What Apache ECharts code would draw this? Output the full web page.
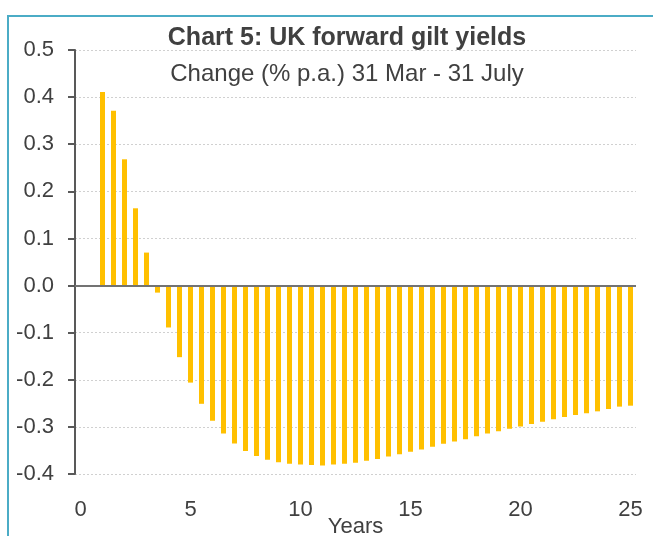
<!DOCTYPE html>
<html lang="en">
<head>
<meta charset="UTF-8">
<title>UK forward gilt yields</title>
<script src="https://cdn.jsdelivr.net/npm/echarts@6/dist/echarts.min.js"></script>
<style>
  html, body { margin: 0; padding: 0; background: #fff; }
  #main { width: 653px; height: 536px; }
</style>
</head>
<body>
<div id="main"></div>
<script>
// maturities in years (category axis, half-year steps)
var years = ['0', '0.5', '1', '1.5', '2', '2.5', '3', '3.5', '4', '4.5',
  '5', '5.5', '6', '6.5', '7', '7.5', '8', '8.5', '9', '9.5',
  '10', '10.5', '11', '11.5', '12', '12.5', '13', '13.5', '14', '14.5',
  '15', '15.5', '16', '16.5', '17', '17.5', '18', '18.5', '19', '19.5',
  '20', '20.5', '21', '21.5', '22', '22.5', '23', '23.5', '24', '24.5', '25'];

// change in forward yield, % p.a. (no value at 0 and 0.5)
var change = [null, null,
  0.411, 0.371, 0.268, 0.164, 0.070, -0.015, -0.089, -0.152,
  -0.206, -0.251, -0.287, -0.314, -0.335, -0.351, -0.362, -0.370, -0.375, -0.378,
  -0.380, -0.381, -0.382, -0.380, -0.378, -0.376, -0.372, -0.368, -0.363, -0.358,
  -0.353, -0.348, -0.342, -0.336, -0.331, -0.326, -0.320, -0.314, -0.309, -0.304,
  -0.299, -0.294, -0.289, -0.284, -0.279, -0.275, -0.271, -0.267, -0.262, -0.257, -0.255];

var titleText = 'Chart 5: UK forward gilt yields';
var subtitleText = 'Change (% p.a.) 31 Mar - 31 July';

var txt = '#404040';
var font = 'Liberation Sans, Arial, sans-serif';

var myChart = echarts.init(document.getElementById('main'));
myChart.setOption({
  animation: false,
  title: [{
    text: titleText,
    left: 342, top: 21, textAlign: 'center',
    textStyle: { fontFamily: font, fontSize: 25, fontWeight: 'bold', color: txt }
  }, {
    text: subtitleText,
    left: 342, top: 57, textAlign: 'center',
    textStyle: { fontFamily: font, fontSize: 24, fontWeight: 'normal', color: txt }
  }],
  graphic: [{
    type: 'rect',
    shape: { x: 8, y: 16, width: 700, height: 600 },
    style: { fill: 'none', stroke: '#4bacc6', lineWidth: 2 },
    silent: true
  }],
  grid: { left: 75, right: 17, top: 50, bottom: 62, outerBoundsMode: 'none' },
  xAxis: {
    type: 'category',
    data: years,
    boundaryGap: true,
    name: 'Years',
    nameLocation: 'middle',
    nameGap: 42,
    nameMoveOverlap: false,
    nameTextStyle: { fontFamily: font, fontSize: 22, color: txt },
    axisLine: { show: false },
    axisTick: { show: false },
    axisLabel: { interval: 9, margin: 25, fontFamily: font, fontSize: 22, color: txt },
    splitLine: { show: false }
  },
  yAxis: {
    type: 'value',
    min: -0.4, max: 0.5, interval: 0.1,
    axisLine: { show: true, lineStyle: { color: '#595959', width: 2 } },
    axisTick: { show: true, length: 7, lineStyle: { color: '#595959', width: 2 } },
    axisLabel: {
      margin: 21, fontFamily: font, fontSize: 22, color: txt,
      formatter: function (v) { return v.toFixed(1); }
    },
    splitLine: { show: true, lineStyle: { color: '#d0d0d0', type: [2, 2], width: 1 } }
  },
  series: [{
    type: 'bar',
    data: change,
    barWidth: 5,
    itemStyle: { color: '#ffc000' },
    markLine: {
      silent: true,
      symbol: ['none', 'none'],
      label: { show: false },
      lineStyle: { color: '#737373', width: 2, type: 'solid' },
      data: [{ yAxis: 0 }]
    }
  }]
});
</script>
</body>
</html>
